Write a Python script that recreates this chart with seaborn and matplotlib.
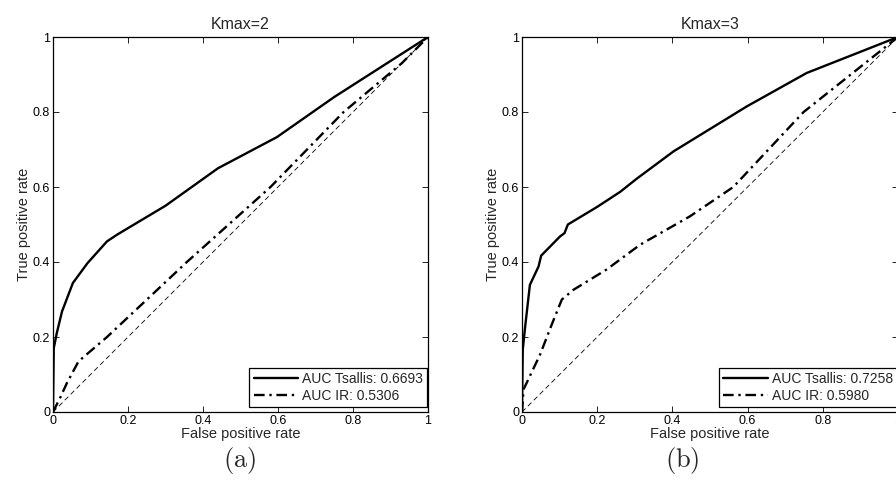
import numpy as np
import pandas as pd
import seaborn as sns
import matplotlib.pyplot as plt
from matplotlib.ticker import FuncFormatter

sns.set_style('white')
plt.rcParams['font.family'] = ['Liberation Sans', 'DejaVu Sans']
plt.rcParams['mathtext.fontset'] = 'cm'

# Kmax=2 curves
fpr_ts2 = [0, 0.002, 0.01, 0.024, 0.053, 0.092, 0.144, 0.171, 0.3, 0.44, 0.597, 0.75, 1.0]
tpr_ts2 = [0, 0.17, 0.21, 0.268, 0.344, 0.397, 0.455, 0.473, 0.55, 0.65, 0.733, 0.84, 1.0]
fpr_ir2 = [0, 0.02, 0.037, 0.068, 0.144, 0.357, 0.58, 0.775, 0.93, 1.0]
tpr_ir2 = [0, 0.04, 0.077, 0.135, 0.2, 0.4, 0.6, 0.8, 0.93, 1.0]

# Kmax=3 curves
fpr_ts3 = [0, 0.002, 0.008, 0.021, 0.044, 0.051, 0.101, 0.113, 0.122, 0.2, 0.261, 0.305, 0.403, 0.598, 0.757, 1.0]
tpr_ts3 = [0, 0.166, 0.224, 0.339, 0.388, 0.417, 0.468, 0.477, 0.5, 0.547, 0.587, 0.622, 0.695, 0.815, 0.904, 1.0]
fpr_ir3 = [0, 0.004, 0.048, 0.079, 0.106, 0.137, 0.225, 0.314, 0.447, 0.562, 0.749, 1.0]
tpr_ir3 = [0, 0.06, 0.153, 0.233, 0.3, 0.326, 0.38, 0.446, 0.522, 0.6, 0.8, 1.0]

titles = ['Kmax=2', 'Kmax=3']
captions = ['(a)', '(b)']
auc_ts = ['0.6693', '0.7258']
auc_ir = ['0.5306', '0.5980']

fig = plt.figure(figsize=(8.96, 4.83), dpi=100)
ax1 = fig.add_axes([53/896, 71/483, 375/896, 375/483])
ax2 = fig.add_axes([522/896, 71/483, 376/896, 375/483])

curves = [(fpr_ts2, tpr_ts2, fpr_ir2, tpr_ir2), (fpr_ts3, tpr_ts3, fpr_ir3, tpr_ir3)]

def fmt(v, pos):
    return '%g' % round(v, 2)

for i, ax in enumerate([ax1, ax2]):
    fts, tts, fir, tir = curves[i]
    df_ts = pd.DataFrame({'fpr': fts, 'tpr': tts})
    df_ir = pd.DataFrame({'fpr': fir, 'tpr': tir})
    sns.lineplot(data=df_ts, x='fpr', y='tpr', sort=False, ax=ax, color='black', lw=1.7,
                 label='AUC Tsallis: ' + auc_ts[i])
    sns.lineplot(data=df_ir, x='fpr', y='tpr', sort=False, ax=ax, color='black', lw=1.7,
                 linestyle=(0, (4.5, 2, 1, 2)), label='AUC IR: ' + auc_ir[i])
    ax.plot([0, 1], [0, 1], color='black', lw=0.6, linestyle=(0, (6, 4)))
    ax.set_xlim(0, 1)
    ax.set_ylim(0, 1)
    ax.set_xticks([0, 0.2, 0.4, 0.6, 0.8, 1])
    ax.set_yticks([0, 0.2, 0.4, 0.6, 0.8, 1])
    ax.xaxis.set_major_formatter(FuncFormatter(fmt))
    ax.yaxis.set_major_formatter(FuncFormatter(fmt))
    ax.tick_params(direction='in', length=4, width=0.6, labelsize=9, pad=2,
                   top=True, right=True, bottom=True, left=True, colors='black')
    for s in ax.spines.values():
        s.set_color('black')
        s.set_linewidth(0.9)
    ax.set_xlabel('False positive rate', fontsize=10.5, labelpad=0)
    ax.set_ylabel('True positive rate', fontsize=10.5, labelpad=1)
    ax.set_title(titles[i], fontsize=11.5, pad=6)
    leg = ax.legend(loc='lower right', bbox_to_anchor=(0.998, 0.013), borderaxespad=0,
                    fontsize=10, frameon=True, fancybox=False,
                    handlelength=3.2, handletextpad=0.3,
                    borderpad=0.3, labelspacing=0.2)
    leg.get_frame().set_edgecolor('black')
    leg.get_frame().set_linewidth(0.9)
    leg.get_frame().set_alpha(1)

fig.text(240/896, 1 - 461/483, r'$\mathrm{' + captions[0] + '}$', fontsize=19, ha='center', va='center')
fig.text(682/896, 1 - 461/483, r'$\mathrm{' + captions[1] + '}$', fontsize=19, ha='center', va='center')

fig.savefig('out.png', dpi=100)
